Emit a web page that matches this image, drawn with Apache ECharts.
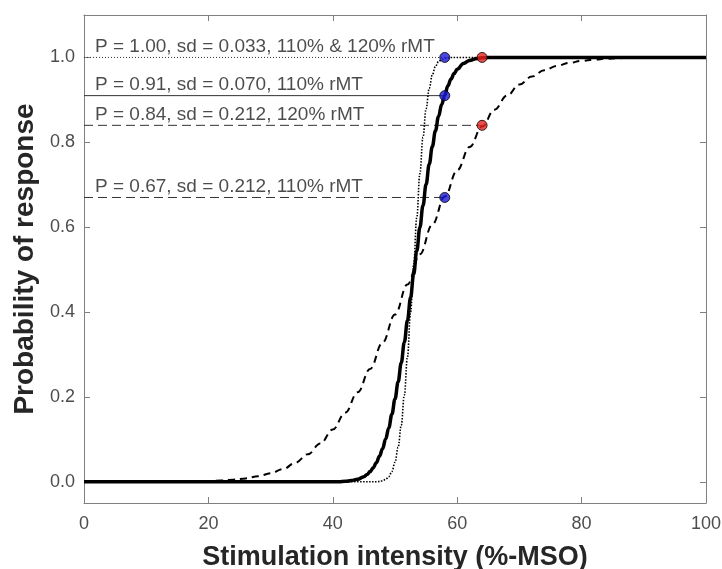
<!DOCTYPE html>
<html>
<head>
<meta charset="utf-8">
<script src="https://cdn.jsdelivr.net/npm/echarts@6/dist/echarts.min.js"></script>
<style>html,body{margin:0;padding:0;background:#fff}#c{width:722px;height:569px}</style>
</head>
<body>
<div id="c"></div>
<script>
// ---- data ----
const xTicks = [0, 20, 40, 60, 80, 100];
const yTicks = [0, 0.2, 0.4, 0.6, 0.8, 1.0];
const yTickLabels = ['0.0', '0.2', '0.4', '0.6', '0.8', '1.0'];

// sd = 0.212 curve (dashed)
const dashedX = [0, 18, 20, 22, 24, 26, 28, 30, 32, 34, 36, 38, 40, 42, 44, 46, 48, 50, 52, 54, 56, 58, 60, 62, 64, 66, 68, 70, 72, 74, 76, 78, 80, 82, 84, 86, 88, 100];
const dashedY = [0, 0, 0.002, 0.003, 0.005, 0.008, 0.013, 0.020, 0.030, 0.045, 0.065, 0.090, 0.123, 0.163, 0.211, 0.266, 0.328, 0.394, 0.465, 0.536, 0.606, 0.672, 0.734, 0.789, 0.837, 0.877, 0.910, 0.936, 0.955, 0.970, 0.980, 0.987, 0.992, 0.995, 0.997, 0.998, 1.0, 1.0];

// sd = 0.070 curve (thick solid)
const solidX = [0, 41, 42, 43, 44, 45, 45.5, 46, 46.5, 47, 47.5, 48, 48.5, 49, 49.5, 50, 50.5, 51, 51.5, 52, 52.5, 53, 53.5, 54, 54.5, 55, 55.5, 56, 56.5, 57, 57.5, 58, 58.5, 59, 59.5, 60, 61, 62, 63, 64, 65, 100];
const solidY = [0, 0, 0.001, 0.003, 0.006, 0.012, 0.017, 0.024, 0.033, 0.045, 0.060, 0.078, 0.101, 0.127, 0.159, 0.195, 0.235, 0.280, 0.329, 0.380, 0.434, 0.489, 0.544, 0.599, 0.651, 0.701, 0.748, 0.790, 0.827, 0.861, 0.889, 0.911, 0.933, 0.949, 0.962, 0.972, 0.986, 0.993, 0.997, 0.999, 1.0, 1.0];

// sd = 0.033 curve (dotted)
const dottedX = [0, 47, 48, 48.5, 49, 49.5, 50, 50.5, 51, 51.5, 52, 52.5, 53, 53.5, 54, 54.5, 55, 55.5, 56, 56.5, 57, 57.5, 58, 59, 100];
const dottedY = [0, 0, 0.002, 0.006, 0.012, 0.024, 0.046, 0.081, 0.133, 0.204, 0.294, 0.399, 0.511, 0.623, 0.726, 0.812, 0.879, 0.927, 0.959, 0.979, 0.990, 0.995, 0.998, 1.0, 1.0];

// reference lines and annotations
const refP = [1.00, 0.91, 0.84, 0.67];
const refEndX = [58, 58, 64, 58];
const refLabels = [
  'P = 1.00, sd = 0.033, 110% & 120% rMT',
  'P = 0.91, sd = 0.070, 110% rMT',
  'P = 0.84, sd = 0.212, 120% rMT',
  'P = 0.67, sd = 0.212, 110% rMT'
];
const refStyles = ['dotted', 'solid', 'dashed', 'dashed'];

// markers: 110% rMT (blue) and 120% rMT (red)
const blueX = [58, 58, 58];
const blueY = [1.00, 0.91, 0.67];
const redX = [64, 64];
const redY = [1.00, 0.84];

// ---- chart ----
const zip = (a, b) => a.map((v, i) => [v, b[i]]);
const FONT = '"Liberation Sans", Arial, Helvetica, sans-serif';
const dashMap = { dotted: [1, 2], solid: 'solid', dashed: [9, 5] };

const series = [];
refP.forEach((p, i) => {
  series.push({
    type: 'line', xAxisIndex: 0, yAxisIndex: 0,
    data: [[0, p], [refEndX[i], p]],
    symbol: 'none', silent: true, z: 2,
    lineStyle: { color: '#333', width: 1, type: dashMap[refStyles[i]] }
  });
});
series.push({
  type: 'scatter', xAxisIndex: 0, yAxisIndex: 0,
  data: refP.map((p, i) => ({ value: [0, p], label: { formatter: refLabels[i] } })),
  symbolSize: 0, silent: true, z: 3,
  label: {
    show: true, position: 'right', offset: [6, -11],
    color: '#1e1e1e', fontSize: 19, fontFamily: FONT
  }
});
series.push({
  type: 'line', data: zip(dottedX, dottedY), symbol: 'none', smooth: 0.4, smoothMonotone: 'x',
  lineStyle: { color: '#000', width: 1.6, type: [1.5, 1.5] }, z: 4
});
series.push({
  type: 'line', data: zip(dashedX, dashedY), symbol: 'none', smooth: 0.4, smoothMonotone: 'x',
  lineStyle: { color: '#000', width: 2, type: [7, 5] }, z: 5
});
series.push({
  type: 'line', data: zip(solidX, solidY), symbol: 'none', smooth: 0.4, smoothMonotone: 'x',
  lineStyle: { color: '#000', width: 3.5 }, z: 6
});
series.push({
  type: 'scatter', data: zip(blueX, blueY), symbol: 'circle', symbolSize: 10, z: 8,
  itemStyle: { color: '#1a1ad6', borderColor: '#000', borderWidth: 1 }
});
series.push({
  type: 'scatter', data: zip(redX, redY), symbol: 'circle', symbolSize: 10, z: 8,
  itemStyle: { color: '#e8201e', borderColor: '#000', borderWidth: 1 }
});

const axisGray = '#808080';
const tickStyle = { show: true, inside: true, length: 6, lineStyle: { color: axisGray } };
const lineStyleAxis = { show: true, onZero: false, lineStyle: { color: axisGray, width: 1 } };

const option = {
  animation: false,
  backgroundColor: '#fff',
  grid: { left: 84, right: 16, top: 15, bottom: 66, containLabel: false, outerBoundsMode: 'none' },
  xAxis: [
    {
      type: 'value', min: 0, max: 100, interval: 20, position: 'bottom',
      name: 'Stimulation intensity (%-MSO)', nameLocation: 'middle', nameGap: 41,
      nameTextStyle: { fontSize: 27, fontWeight: 'bold', color: '#262626', fontFamily: FONT },
      axisLine: lineStyleAxis,
      axisTick: tickStyle,
      axisLabel: { color: '#4d4d4d', fontSize: 18, margin: 12, fontFamily: FONT },
      splitLine: { show: false }
    },
    {
      type: 'value', min: 0, max: 100, interval: 20, position: 'top',
      axisLine: lineStyleAxis,
      axisTick: tickStyle, axisLabel: { show: false }, splitLine: { show: false }
    }
  ],
  yAxis: [
    {
      type: 'value', min: -0.05, max: 1.1, position: 'left',
      name: 'Probability of response', nameLocation: 'middle', nameGap: 44,
      nameTextStyle: { fontSize: 28, fontWeight: 'bold', color: '#262626', fontFamily: FONT },
      axisLine: lineStyleAxis,
      axisTick: Object.assign({}, tickStyle, { customValues: yTicks }),
      axisLabel: {
        customValues: yTicks, color: '#4d4d4d', fontSize: 18, margin: 9, fontFamily: FONT,
        formatter: v => yTickLabels[yTicks.findIndex(t => Math.abs(t - v) < 1e-9)] ?? ''
      },
      splitLine: { show: false }
    },
    {
      type: 'value', min: -0.05, max: 1.1, position: 'right',
      axisLine: lineStyleAxis,
      axisTick: Object.assign({}, tickStyle, { customValues: yTicks }),
      axisLabel: { show: false, customValues: yTicks }, splitLine: { show: false }
    }
  ],
  series: series
};

const chart = echarts.init(document.getElementById('c'), null, { renderer: 'canvas' });
chart.setOption(option);
</script>
</body>
</html>
